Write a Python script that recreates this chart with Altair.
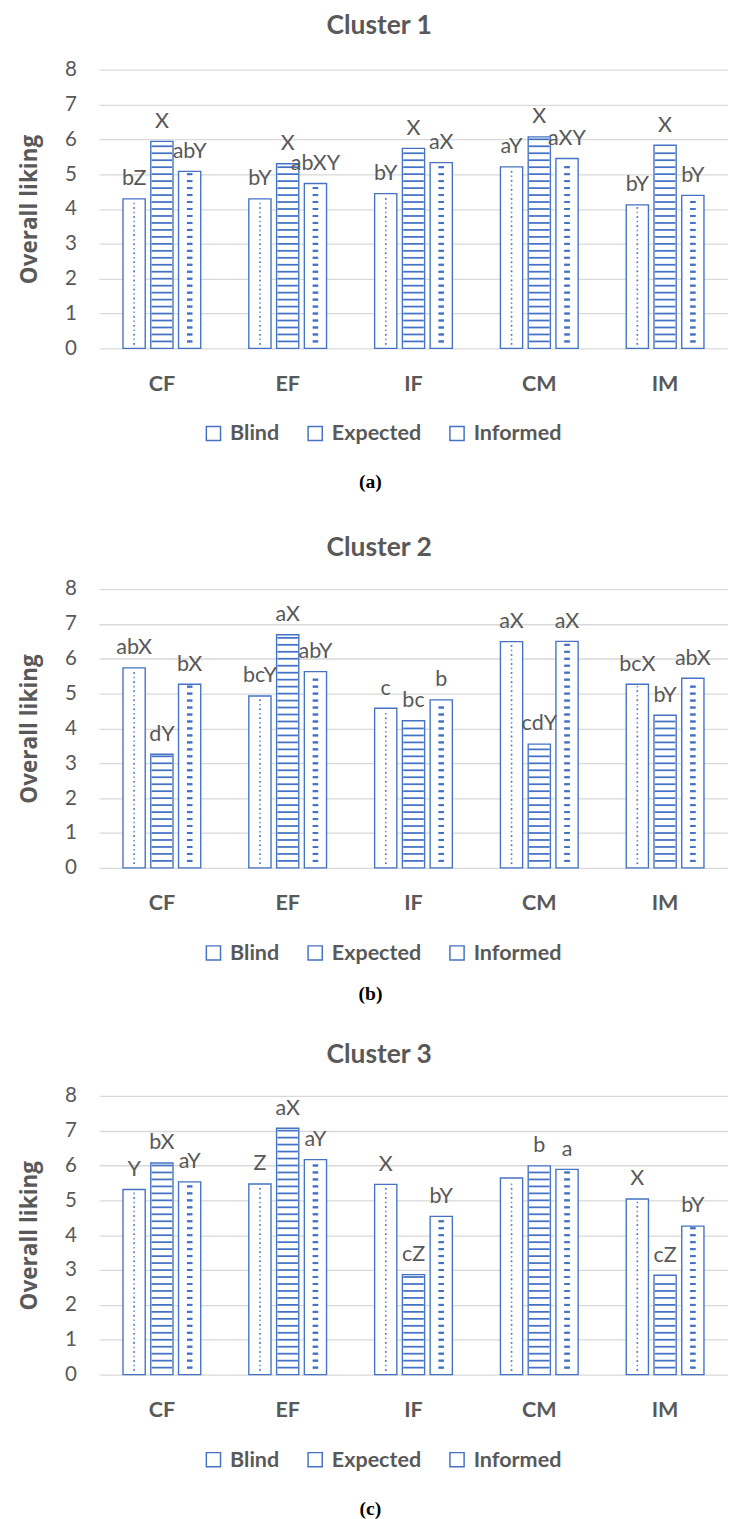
import altair as alt
import pandas as pd

categories = ["CF", "EF", "IF", "CM", "IM"]
groups = ["Blind", "Expected", "Informed"]

c1_blind = [4.29, 4.29, 4.44, 5.21, 4.12]
c1_expected = [5.94, 5.30, 5.74, 6.07, 5.83]
c1_informed = [5.08, 4.73, 5.33, 5.45, 4.39]
c1_lab_blind = ["bZ", "bY", "bY", "aY", "bY"]
c1_lab_expected = ["X", "X", "X", "X", "X"]
c1_lab_informed = ["abY", "abXY", "aX", "aXY", "bY"]

c2_blind = [5.74, 4.93, 4.58, 6.49, 5.27]
c2_expected = [3.26, 6.69, 4.22, 3.55, 4.38]
c2_informed = [5.27, 5.63, 4.82, 6.50, 5.44]
c2_lab_blind = ["abX", "bcY", "c", "aX", "bcX"]
c2_lab_expected = ["dY", "aX", "bc", "cdY", "bY"]
c2_lab_informed = ["bX", "abY", "b", "aX", "abX"]

c3_blind = [5.31, 5.47, 5.46, 5.64, 5.04]
c3_expected = [6.07, 7.07, 2.87, 5.99, 2.85]
c3_informed = [5.53, 6.17, 4.54, 5.89, 4.26]
c3_lab_blind = ["Y", "Z", "X", "", "X"]
c3_lab_expected = ["bX", "aX", "cZ", "b", "cZ"]
c3_lab_informed = ["aY", "aY", "bY", "a", "bY"]

BLUE = "#4472C4"
GREY = "#595959"
GRID = "#D9D9D9"
W = 628
H = 285


def panel(title, caption, vals, labs, title_offset, cap_y):
    rows = []
    for g, v, l in zip(groups, vals, labs):
        for c, vv, ll in zip(categories, v, l):
            rows.append({"category": c, "group": g, "value": vv, "label": ll})
    df = pd.DataFrame(rows)

    xscale = alt.Scale(domain=categories, range=[0, 643], paddingInner=0, paddingOuter=0)
    xaxis = alt.Axis(
        domain=False, ticks=False, labelAngle=0, labelFont="Lato", labelFontSize=22,
        labelFontWeight="bold", labelColor=GREY, labelPadding=26,
        title=caption, titleFont="Liberation Serif", titleFontSize=20,
        titleFontWeight="bold", titleColor="#000000", titleX=277, titleY=cap_y,
        titleBaseline="middle", titleAlign="center",
    )
    yscale = alt.Scale(domain=[0, 8])
    yaxis = alt.Axis(
        values=list(range(9)), domain=False, ticks=False, grid=True, gridColor=GRID,
        gridWidth=1.3, labelFont="Lato", labelFontSize=21, labelColor=GREY,
        labelPadding=23, title="Overall liking", titleFont="Open Sans",
        titleFontSize=23, titleFontWeight="bold", titleColor=GREY, titlePadding=24,
    )
    x = alt.X("category:N", sort=categories, scale=xscale, axis=xaxis)
    xo = alt.XOffset("group:N", sort=groups,
                     scale=alt.Scale(domain=groups, paddingInner=0.2, paddingOuter=0.866))

    base = alt.Chart(df)
    bars = base.mark_bar(fill="white", strokeWidth=1.4).encode(
        x=x, xOffset=xo,
        y=alt.Y("value:Q", scale=yscale, axis=yaxis),
        stroke=alt.Stroke(
            "group:N", sort=groups,
            scale=alt.Scale(domain=groups, range=[BLUE, BLUE, BLUE]),
            legend=alt.Legend(
                title=None, orient="none", legendX=106, legendY=361,
                direction="horizontal", symbolType="square", symbolSize=210,
                symbolFillColor="white", symbolStrokeWidth=1.5,
                labelFont="Lato", labelFontSize=22, labelFontWeight="bold",
                labelColor=GREY, labelOffset=6, columnPadding=25, padding=0,
            ),
        ),
    )

    # Expected: horizontal stripes
    stripes = (
        base.transform_filter(alt.datum.group == "Expected")
        .transform_calculate(s="sequence(0.2, datum.value - 0.05, 0.2)")
        .transform_flatten(["s"])
        .mark_tick(orient="horizontal", size=21, thickness=1.8, color=BLUE, opacity=1)
        .encode(x=x, xOffset=xo, y=alt.Y("s:Q", scale=yscale, axis=yaxis))
    )

    layers = [bars, stripes]

    # Informed: dashed rows, staggered
    for start, offs in [(0.2, [-7.5, 3]), (0.4, [-3, 7.5])]:
        d = (
            base.transform_filter(alt.datum.group == "Informed")
            .transform_calculate(s=f"sequence({start}, datum.value - 0.05, 0.4)")
            .transform_flatten(["s"])
        )
        for o in offs:
            layers.append(
                d.mark_tick(orient="horizontal", size=5.5, thickness=2, color=BLUE,
                            opacity=1, dx=o)
                .encode(x=x, xOffset=xo, y=alt.Y("s:Q", scale=yscale, axis=yaxis))
            )

    # Blind: dotted, staggered
    for start, offs in [(0.13, [-7, 7]), (0.26, [0])]:
        d = (
            base.transform_filter(alt.datum.group == "Blind")
            .transform_calculate(s=f"sequence({start}, datum.value - 0.05, 0.26)")
            .transform_flatten(["s"])
        )
        for o in offs:
            layers.append(
                d.mark_square(size=2.5, color=BLUE, opacity=0.8, dx=o)
                .encode(x=x, xOffset=xo, y=alt.Y("s:Q", scale=yscale, axis=yaxis))
            )

    labels = base.mark_text(font="Lato", fontSize=22, color=GREY,
                            baseline="alphabetic", dy=-14).encode(
        x=x, xOffset=xo, y=alt.Y("value:Q", scale=yscale, axis=yaxis), text="label:N"
    )
    layers.append(labels)

    return alt.layer(*layers).properties(
        width=W, height=H,
        title=alt.TitleParams(title, font="Lato", fontSize=27, fontWeight="bold",
                              color=GREY, anchor="middle", frame="bounds", dx=6,
                              offset=title_offset),
    )


p1 = panel("Cluster 1", "(a)", [c1_blind, c1_expected, c1_informed],
           [c1_lab_blind, c1_lab_expected, c1_lab_informed], 19, 136)
p2 = panel("Cluster 2", "(b)", [c2_blind, c2_expected, c2_informed],
           [c2_lab_blind, c2_lab_expected, c2_lab_informed], 17, 129)
p3 = panel("Cluster 3", "(c)", [c3_blind, c3_expected, c3_informed],
           [c3_lab_blind, c3_lab_expected, c3_lab_informed], 17, 137)

lower = alt.vconcat(p2, p3, spacing=38).resolve_legend(stroke="independent")

chart = (
    alt.vconcat(p1, lower, spacing=44)
    .resolve_legend(stroke="independent")
    .properties(padding={"left": 10, "top": -12, "right": 0, "bottom": 0})
    .configure_view(stroke=None)
)

chart.save("out.html", embed_options={"renderer": "svg", "actions": False})
